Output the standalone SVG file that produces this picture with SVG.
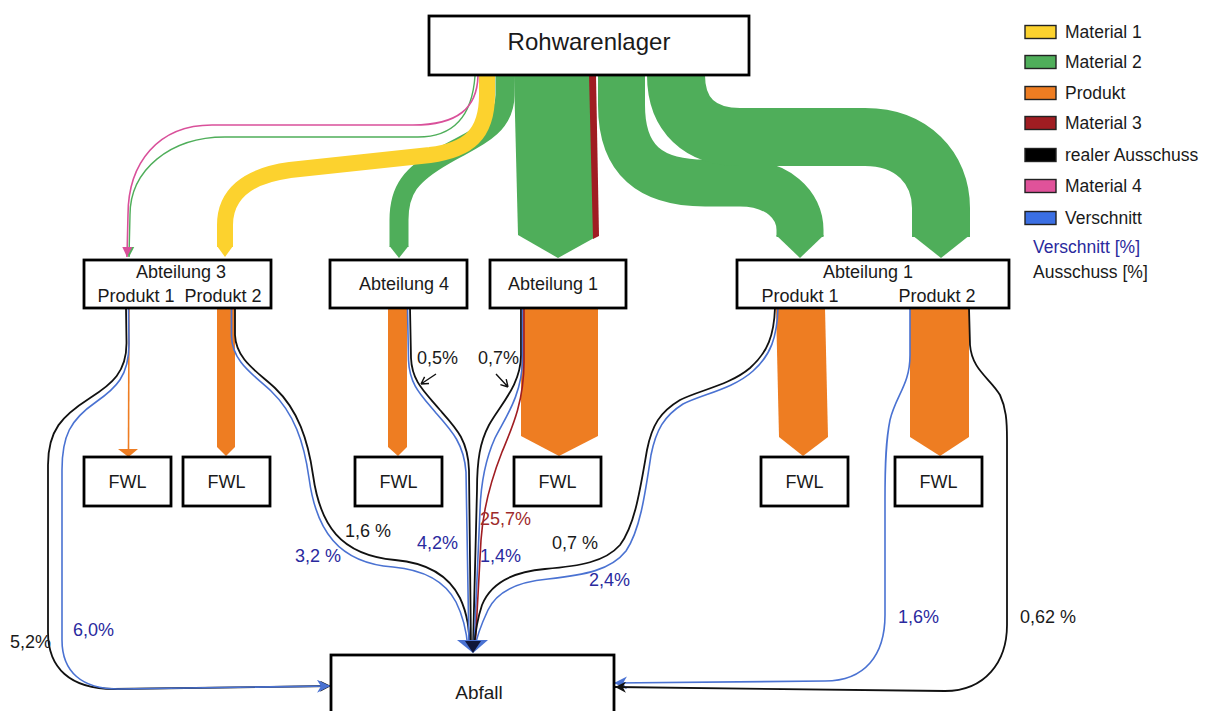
<svg xmlns="http://www.w3.org/2000/svg" width="1211" height="711" viewBox="0 0 1211 711">
<defs>
<style>
.box{fill:#fff;stroke:#000;stroke-width:2.8}
.t{font-family:"Liberation Sans",Arial,sans-serif;font-size:18px;fill:#1a1a1a}
.tc{text-anchor:middle}
.lg{font-family:"Liberation Sans",Arial,sans-serif;font-size:17.5px;fill:#1a1a1a}
.sw{stroke:#222;stroke-width:1.4}
.bl{fill:none;stroke:#111;stroke-width:1.8}
.bu{fill:none;stroke:#4a72d2;stroke-width:1.6}
.rd{fill:none;stroke:#a01d22;stroke-width:1.6}
.grn{fill:none;stroke:#4fae5a}
.pct-b{fill:#2a2a9e}
.pct-r{fill:#9e2a2b}
</style>
<marker id="mb" viewBox="0 0 10 10" refX="10" refY="5" markerWidth="11" markerHeight="11" markerUnits="userSpaceOnUse" orient="auto"><path d="M0,0 L10,5 L0,10 L3,5 z" fill="#111"/></marker>
<marker id="mu" viewBox="0 0 10 10" refX="10" refY="5" markerWidth="13" markerHeight="13" markerUnits="userSpaceOnUse" orient="auto"><path d="M0,0 L10,5 L0,10 L3,5 z" fill="#4a72d2"/></marker>
<marker id="mp" viewBox="0 0 10 10" refX="10" refY="5" markerWidth="10" markerHeight="12" markerUnits="userSpaceOnUse" orient="auto"><path d="M0,0 L10,5 L0,10 z" fill="#d9509a"/></marker>
<marker id="mg" viewBox="0 0 10 10" refX="10" refY="5" markerWidth="10" markerHeight="12" markerUnits="userSpaceOnUse" orient="auto"><path d="M0,0 L10,5 L0,10 z" fill="#4fae5a"/></marker>
</defs>
<rect width="1211" height="711" fill="#fff"/>

<g id="connectors">
  <!-- Material 2 bands -->
  <path class="grn" stroke-width="47" d="M621.5,75 L621.5,105 C621.5,160 650,183 705,183 L740,183 C778,183 800,205 800,230 L800,237"/>
  <polygon fill="#4fae5a" points="776,235 824,235 800,258"/>
  <path class="grn" stroke-width="58" d="M676,75 C676,115 700,137 740,137 L865,137 C912,137 941,168 941,208 L941,237"/>
  <polygon fill="#4fae5a" points="912,235 970,235 941,258"/>
  <polygon fill="#4fae5a" points="514,75 592,75 594,238 558,258 518,235"/>
  <polygon fill="#a01d22" points="589,75 596,75 599,236 593,239"/>
  <path class="grn" stroke-width="19" d="M505,75 L505,95 C505,130 470,140 445,155 C410,175 399,190 399,220 L399,247"/>
  <polygon fill="#4fae5a" points="389.5,246 408.5,246 399,258"/>
  <!-- Material 1 -->
  <path fill="none" stroke="#fcd22e" stroke-width="16" d="M487,75 L487,95 C487,135 468,150 430,155 L290,170 C246,176 225,195 225,225 L225,247"/>
  <polygon fill="#fcd22e" points="217,246 233,246 225,257"/>
  <!-- Material 4 and thin Material 2 -->
  <path fill="none" stroke="#4fae5a" stroke-width="1.4" marker-end="url(#mg)" d="M475,76 C472,118 452,137 418,137 L225,137 C170,137 130,170 130,215 L129,257"/>
  <path fill="none" stroke="#d9509a" stroke-width="1.6" marker-end="url(#mp)" d="M478,76 C477,108 458,125 413,125 L212,125 C158,125 128,163 128,215 L127,257"/>

  <!-- Produkt flows -->
  <path fill="none" stroke="#ee7d22" stroke-width="1.6" d="M129,308 L128.5,450"/>
  <polygon fill="#ee7d22" points="118,449 138,449 128.5,457"/>
  <polygon fill="#ee7d22" points="217,308 235,308 235,447 226,456 217,447"/>
  <polygon fill="#ee7d22" points="388,308 407,308 407,447 398,456 388,447"/>
  <polygon fill="#ee7d22" points="521,308 598,308 598,436 559,456 521,436"/>
  <polygon fill="#ee7d22" points="776,308 825,308 828,437 803,456 779,437"/>
  <polygon fill="#ee7d22" points="910,308 969,308 969,437 940,456 910,437"/>

  <!-- Abteilung 3 Produkt 1 to Abfall -->
  <path class="bl" marker-end="url(#mb)" d="M126,308 L126.5,342 C127,372 112,384 90,398 C62,416 48,430 48,465 L48,632 C48,668 70,689 114,689 L331,686"/>
  <path class="bu" marker-end="url(#mu)" d="M128.5,308 L129,344 C129,376 116,388 96,402 C70,420 62,436 62,470 L62,640 C62,672 82,689 118,689 L330,686"/>

  <!-- Abteilung 3 Produkt 2 -->
  <path class="bl" d="M235,308 L235,335 C236,360 258,372 275,388 C298,410 308,440 313,475 C320,525 340,555 395,560 C430,563 450,578 460,598 C468,615 469,630 470,648"/>
  <path class="bu" d="M231.5,308 L231.5,336 C232,362 254,375 271,391 C294,413 304,442 309,478 C316,530 338,563 393,567 C426,570 446,583 456,602 C464,618 467,636 468,648"/>

  <!-- Abteilung 4 -->
  <path class="bl" d="M410,308 L411,358 C412,382 425,392 440,410 C456,428 468,440 469,470 L471,648"/>
  <path class="bu" d="M407.5,308 L408.5,360 C409.5,385 421,395 436,413 C452,431 464,444 466,472 L469,648"/>

  <!-- Abteilung 1 middle -->
  <path class="bl" d="M521,308 L521,355 C521,385 500,405 489,425 C480,442 477,460 477,490 L473,648"/>
  <path class="bu" d="M522.5,308 L522.5,358 C522.5,395 505,418 495,438 C486,458 481,480 480,510 L474,648"/>
  <path class="rd" d="M524,308 L524,362 C524,402 512,428 502,452 C491,480 483,510 481,540 L475,650"/>

  <!-- Abteilung 1 Produkt 1 -->
  <path class="bl" d="M775,308 C774,335 768,352 750,368 C730,385 700,390 680,400 C660,412 652,425 647,450 C640,490 635,525 620,545 C605,562 580,566 545,569 C510,572 490,585 482,605 C477,620 475,635 474,648"/>
  <path class="bu" d="M778,308 C777,337 771,355 753,371 C733,389 703,394 683,404 C664,416 656,430 651,455 C645,495 640,530 626,551 C611,570 585,575 548,579 C515,582 496,593 488,610 C481,625 476,640 475,648"/>
  <!-- arrowheads into Abfall (top) -->
  <polygon fill="#4a72d2" points="457,640 488,640 473,653"/>
  <polygon fill="#10163a" points="465,641 481,641 473,653"/>

  <!-- Abteilung 1 Produkt 2 -->
  <path class="bu" marker-end="url(#mu)" d="M910,308 L910,355 C910,385 896,395 890,420 C886,440 885,460 885,500 L885,615 C885,655 865,681 825,681 L614,683"/>
  <path class="bl" marker-end="url(#mb)" d="M969,308 L970,345 C972,370 990,378 1000,395 C1006,408 1007,420 1007,440 L1007,625 C1007,662 985,691 945,691 L615,687"/>

  <!-- label pointers -->
  <path fill="none" stroke="#111" stroke-width="1.4" d="M436,374 L421,384 M421,384 l8,-0.5 M421,384 l3.6,-7.1"/>
  <path fill="none" stroke="#111" stroke-width="1.4" d="M496,374 L508,387 M508,387 l-1.8,-7.8 M508,387 l-7.6,-2.3"/>
</g>

<g id="rohwarenlager">
  <rect class="box" x="429" y="16" width="320" height="59"/>
  <text class="t tc" x="589" y="50" style="font-size:24px">Rohwarenlager</text>
</g>
<g id="abteilung3">
  <rect class="box" x="84" y="260" width="187" height="48"/>
  <text class="t tc" x="181" y="278">Abteilung 3</text>
  <text class="t tc" x="136" y="302">Produkt 1</text>
  <text class="t tc" x="223" y="302">Produkt 2</text>
</g>
<g id="abteilung4">
  <rect class="box" x="330" y="260" width="137" height="48"/>
  <text class="t tc" x="404" y="290">Abteilung 4</text>
</g>
<g id="abteilung1-mitte">
  <rect class="box" x="490" y="260" width="136" height="48"/>
  <text class="t tc" x="553" y="290">Abteilung 1</text>
</g>
<g id="abteilung1-rechts">
  <rect class="box" x="737" y="260" width="272" height="48"/>
  <text class="t tc" x="868" y="278">Abteilung 1</text>
  <text class="t tc" x="800" y="302">Produkt 1</text>
  <text class="t tc" x="937" y="302">Produkt 2</text>
</g>
<g id="fwl1"><rect class="box" x="84" y="457" width="87" height="49"/><text class="t tc" x="127.5" y="488">FWL</text></g>
<g id="fwl2"><rect class="box" x="183" y="457" width="87" height="49"/><text class="t tc" x="226.5" y="488">FWL</text></g>
<g id="fwl3"><rect class="box" x="355" y="457" width="87" height="49"/><text class="t tc" x="398.5" y="488">FWL</text></g>
<g id="fwl4"><rect class="box" x="514" y="457" width="87" height="49"/><text class="t tc" x="557.5" y="488">FWL</text></g>
<g id="fwl5"><rect class="box" x="761" y="457" width="87" height="49"/><text class="t tc" x="804.5" y="488">FWL</text></g>
<g id="fwl6"><rect class="box" x="895" y="457" width="87" height="49"/><text class="t tc" x="938.5" y="488">FWL</text></g>
<g id="abfall">
  <rect class="box" x="331" y="655" width="283" height="70"/>
  <text class="t tc" x="479" y="699" style="font-size:19px">Abfall</text>
</g>

<g id="labels">
  <text class="t" x="417" y="364">0,5%</text>
  <text class="t" x="478" y="364">0,7%</text>
  <text class="t" x="345" y="537">1,6 %</text>
  <text class="t pct-b" x="295" y="562">3,2 %</text>
  <text class="t pct-b" x="417" y="549">4,2%</text>
  <text class="t pct-r" x="480" y="525">25,7%</text>
  <text class="t pct-b" x="480" y="562">1,4%</text>
  <text class="t" x="552" y="549">0,7 %</text>
  <text class="t pct-b" x="589" y="586">2,4%</text>
  <text class="t pct-b" x="898" y="623">1,6%</text>
  <text class="t" x="1020" y="623">0,62 %</text>
  <text class="t" x="10" y="648">5,2%</text>
  <text class="t pct-b" x="73" y="636">6,0%</text>
</g>

<g id="legend">
  <rect class="sw" x="1025" y="25.5" width="31" height="13" fill="#fcd22e"/>
  <text class="lg" x="1065" y="38">Material 1</text>
  <rect class="sw" x="1025" y="55.5" width="31" height="13" fill="#4fae5a"/>
  <text class="lg" x="1065" y="68">Material 2</text>
  <rect class="sw" x="1025" y="86.5" width="31" height="13" fill="#ee7d22"/>
  <text class="lg" x="1065" y="99">Produkt</text>
  <rect class="sw" x="1025" y="116.5" width="31" height="13" fill="#a01d22"/>
  <text class="lg" x="1065" y="129">Material 3</text>
  <rect class="sw" x="1025" y="148.5" width="31" height="13" fill="#000"/>
  <text class="lg" x="1065" y="161">realer Ausschuss</text>
  <rect class="sw" x="1025" y="179.5" width="31" height="13" fill="#e0529a"/>
  <text class="lg" x="1065" y="192">Material 4</text>
  <rect class="sw" x="1025" y="211.5" width="31" height="13" fill="#3b6fe3"/>
  <text class="lg" x="1065" y="224">Verschnitt</text>
  <text class="lg pct-b" x="1033" y="253">Verschnitt [%]</text>
  <text class="lg" x="1033" y="278">Ausschuss [%]</text>
</g>
</svg>
